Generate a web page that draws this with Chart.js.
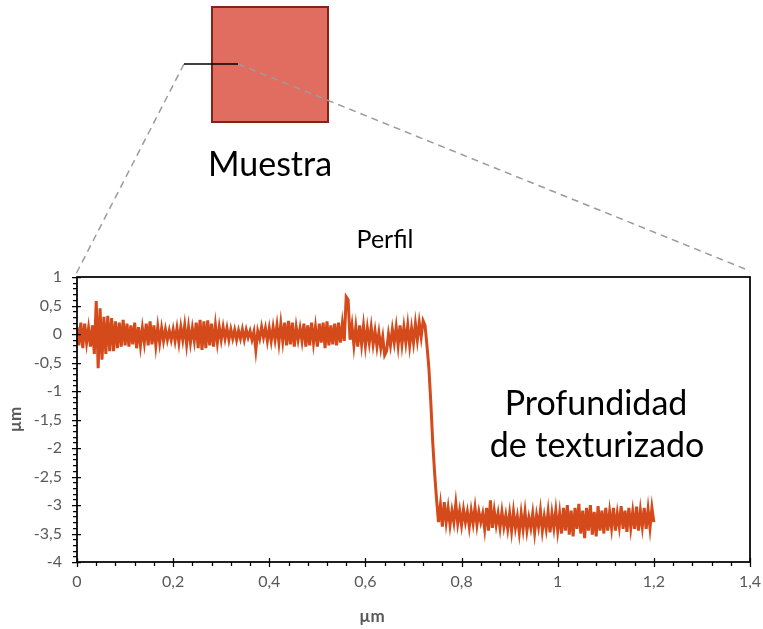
<!DOCTYPE html>
<html lang="es">
<head>
<meta charset="utf-8">
<title>Perfil</title>
<script src="https://cdn.jsdelivr.net/npm/chart.js@4.4.1/dist/chart.umd.min.js"></script>
<style>
    html, body { margin: 0; padding: 0; background: #fff; }
    #wrap { width: 763px; height: 629px; position: relative; }
</style>
</head>
<body>
<div id="wrap"><canvas id="perfil-chart" width="763" height="629"></canvas></div>
<script>
// sampling step of the profile (µm)
const xStep = 0.004;

// height values (µm), one every xStep from 0 to 1,2
const perfilInicio = [
    0.12, -0.2, 0.2, -0.25, 0.18, -0.15, 0.1, -0.22, 0.15, -0.35, 0.58, -0.6, 0.45, -0.45, 0.3, -0.35, 0.32, -0.3, 0.28, -0.3, 0.22, -0.25, 0.2, -0.22, 0.25,
    -0.2, 0.18, -0.22, 0.15, -0.18, 0.2, -0.25, 0.12, -0.2, 0.1, -0.15, 0.18, -0.2, 0.22, -0.18, 0.15, -0.2, 0.12, -0.15, 0.1, -0.12, 0.08, -0.1, 0.06, -0.1,
    0.08, -0.12, 0.1, -0.15, 0.12, -0.1, 0.15, -0.18, 0.12, -0.15, 0.1, -0.12, 0.2, -0.25, 0.25, -0.28, 0.22, -0.25, 0.24, -0.2, 0.18, -0.22, 0.15, -0.15, 0.12
];
const perfilCentro = [
    -0.1, 0.12, -0.08, 0.1, -0.1, 0.08, -0.08, 0.07, -0.1, 0.06, -0.08, 0.08, -0.1, 0.07, -0.06, 0.05, -0.1, 0.04, -0.28, 0.05, -0.08, 0.12, -0.06, 0.1, -0.12,
    0.1, -0.12, 0.12, -0.1, 0.15, -0.15, 0.18, -0.12, 0.2, -0.2, 0.23, -0.18, 0.2, -0.22, 0.12, -0.1, 0.1, -0.12, 0.18, -0.22, 0.15, -0.2, 0.2, -0.15, 0.12,
    -0.22, 0.18, -0.15, 0.2, -0.25, 0.22, -0.2, 0.15, -0.18, 0.18, -0.2, 0.2, -0.15, 0.18, -0.12, 0.65, 0.6, -0.1, 0.15, -0.2, 0.12, -0.22, 0.15, -0.18, 0.14,
    -0.2, 0.1, -0.15, 0.12, -0.18, 0.05, -0.22, 0.02, -0.25, -0.05, -0.37, -0.3, 0.0, -0.2, 0.08, -0.15, 0.12, -0.2, 0.15, -0.18, 0.12, -0.15, 0.15, -0.2, 0.1
];
const perfilEscalon = [
    -0.15, 0.18, -0.1, 0.2, -0.05, 0.23, 0.15, -0.2, -0.6, -1.2, -1.9, -2.45, -2.9, -3.3,
    -3.0, -3.38, -2.95, -3.3, -3.05, -3.35, -3.1, -3.3, -2.98, -3.32, -3.1
];
const perfilFondo = [
    -3.35, -3.08, -3.3, -3.12, -3.38, -3.1, -3.32, -3.05, -3.35, -3.12, -3.3, -3.15, -3.42, -3.05, -3.45, -2.92, -3.4, -3.1, -3.35, -3.15, -3.4, -3.12, -3.38, -3.18, -3.42,
    -3.15, -3.45, -3.12, -3.4, -3.2, -3.48, -3.15, -3.42, -3.12, -3.45, -3.22, -3.4, -3.15, -3.48, -3.18, -3.38, -3.1, -3.45, -3.2, -3.42, -3.12, -3.48, -3.15, -3.4, -3.1,
    -3.45, -3.15, -3.5, -3.05, -3.45, -3.0, -3.52, -3.1, -3.55, -3.05, -3.42, -2.98, -3.5, -3.1, -3.58, -3.05, -3.45, -3.0, -3.52, -3.12, -3.55, -3.02, -3.45, -3.1, -3.5,
    -3.05, -3.45, -3.12, -3.4, -3.05, -3.45, -3.15, -3.38, -3.02, -3.42, -3.1, -3.47, -3.05, -3.4, -3.12, -3.42, -3.03, -3.45, -3.1, -3.38, -3.05, -3.42, -3.08, -3.4, -3.05,
    -3.3
];

const xTicks = [0, 0.2, 0.4, 0.6, 0.8, 1, 1.2, 1.4];
const yTicks = [1, 0.5, 0, -0.5, -1, -1.5, -2, -2.5, -3, -3.5, -4];
const xMinorStep = 0.04;
const yMinorStep = 0.1;

const perfil = perfilInicio.concat(perfilCentro, perfilEscalon, perfilFondo);
const posiciones = perfil.map((v, i) => +(i * xStep).toFixed(3));

function coma(v) {
    return String(Math.round(v * 10) / 10).replace('.', ',');
}

// square, dashed guide lines, labels, frame and small ticks
const decoracion = {
    id: 'decoracion',
    afterDraw(chart) {
        const ctx = chart.ctx;
        const area = chart.chartArea;
        const sx = chart.scales.x;
        const sy = chart.scales.y;
        ctx.save();

        // muestra
        ctx.fillStyle = '#e06d5f';
        ctx.fillRect(212, 7, 116, 115);
        ctx.strokeStyle = '#7f2519';
        ctx.lineWidth = 2;
        ctx.strokeRect(212, 7, 116, 115);

        ctx.strokeStyle = '#9f9a9a';
        ctx.lineWidth = 1.5;
        ctx.setLineDash([7, 5]);
        ctx.beginPath();
        ctx.moveTo(184, 64);
        ctx.lineTo(area.left - 1, area.top - 3);
        ctx.moveTo(238, 64);
        ctx.lineTo(area.right, area.top - 6);
        ctx.stroke();
        ctx.setLineDash([]);

        ctx.strokeStyle = '#000';
        ctx.lineWidth = 1.5;
        ctx.beginPath();
        ctx.moveTo(184, 64);
        ctx.lineTo(238, 64);
        ctx.stroke();

        ctx.fillStyle = '#000';
        ctx.font = '34px Lato';
        ctx.textAlign = 'center';
        ctx.textBaseline = 'middle';
        ctx.fillText('Muestra', 270, 165);
        ctx.fillText('Profundidad', 596, 404);
        ctx.fillText('de texturizado', 597, 446);

        // x axis title sits left of centre in the original
        ctx.fillStyle = '#595959';
        ctx.font = 'bold 17px Lato';
        ctx.fillText('µm', 372, 617);

        // frame
        ctx.strokeStyle = '#000';
        ctx.lineWidth = 1.75;
        ctx.strokeRect(area.left, area.top, area.right - area.left, area.bottom - area.top);

        // ticks
        ctx.lineWidth = 1.25;
        ctx.beginPath();
        const nx = Math.round((sx.max - sx.min) / xMinorStep);
        for (let i = 0; i <= nx; i++) {
            const v = sx.min + i * xMinorStep;
            const px = Math.round(sx.getPixelForValue(v)) + 0.5;
            const major = xTicks.some(t => Math.abs(t - v) < 1e-6);
            ctx.moveTo(px, area.bottom + (major ? 5 : 4));
            ctx.lineTo(px, area.bottom - (major ? 4 : 0));
        }
        const ny = Math.round((sy.max - sy.min) / yMinorStep);
        for (let i = 0; i <= ny; i++) {
            const v = sy.min + i * yMinorStep;
            const py = Math.round(sy.getPixelForValue(v)) + 0.5;
            const major = yTicks.some(t => Math.abs(t - v) < 1e-6);
            ctx.moveTo(area.left - (major ? 5 : 4), py);
            ctx.lineTo(area.left + (major ? 4 : 0), py);
        }
        ctx.stroke();
        ctx.restore();
    }
};

new Chart(document.getElementById('perfil-chart'), {
    type: 'line',
    data: {
        labels: posiciones,
        datasets: [{
            label: 'Perfil',
            data: perfil,
            borderColor: '#d44a1b',
            borderWidth: 3,
            pointRadius: 0,
            tension: 0,
            fill: false
        }]
    },
    options: {
        responsive: false,
        animation: false,
        // left padding shifts the "Perfil" title right like in the original
        layout: { padding: { top: 225, right: 13, bottom: 0, left: 20 } },
        plugins: {
            legend: { display: false },
            tooltip: { enabled: false },
            title: {
                display: true,
                text: 'Perfil',
                color: '#000',
                font: { family: 'Lato', size: 25, weight: 'normal' },
                padding: { top: 0, bottom: 22 }
            }
        },
        scales: {
            x: {
                type: 'linear',
                min: 0,
                max: 1.4,
                afterBuildTicks: s => { s.ticks = xTicks.map(v => ({ value: v })); },
                afterFit: s => { s.height = 67; s.paddingRight = 0; s.paddingLeft = 0; },
                grid: { display: false },
                border: { display: false },
                ticks: {
                    color: '#595959',
                    font: { family: 'Lato', size: 16 },
                    padding: 2,
                    maxRotation: 0,
                    callback: v => coma(v)
                }
            },
            y: {
                min: -4,
                max: 1,
                afterBuildTicks: s => { s.ticks = yTicks.map(v => ({ value: v })); },
                afterFit: s => { s.width = 57; },
                grid: { display: false },
                border: { display: false },
                ticks: {
                    color: '#595959',
                    font: { family: 'Lato', size: 16 },
                    padding: 7,
                    callback: v => coma(v)
                },
                title: {
                    display: true,
                    text: 'µm',
                    color: '#595959',
                    font: { family: 'Lato', size: 17, weight: 'bold' },
                    padding: { top: -15, bottom: 4 }
                }
            }
        }
    },
    plugins: [decoracion]
});
</script>
</body>
</html>
